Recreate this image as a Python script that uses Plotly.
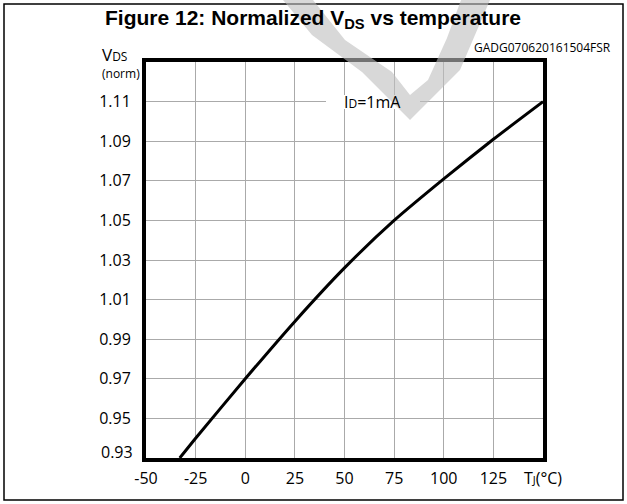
import plotly.graph_objects as go

# ---- data ----
temp_c = [-33, -25, 0, 25, 50, 75, 100, 125, 150]
vds_norm = [0.930, 0.940, 0.970, 0.999, 1.026, 1.050, 1.071, 1.091, 1.110]

x_tickvals = [-50, -25, 0, 25, 50, 75, 100, 125, 150]
x_ticktext = ["-50", "-25", "0", "25", "50", "75", "100", "125",
              "T<span style='font-size:11px'>J</span>(°C)"]
y_tickvals = [0.95, 0.97, 0.99, 1.01, 1.03, 1.05, 1.07, 1.09, 1.11]
y_ticktext = ["0.95", "0.97", "0.99", "1.01", "1.03", "1.05", "1.07", "1.09", "1.11"]
y_bottom_label = "0.93"

title_text = "Figure 12: Normalized V<sub>DS</sub> vs temperature"
code_text = "GADG070620161504FSR"
cond_text = "I<span style='font-size:12px'>D</span>=1mA"
yaxis_name = "V<span style='font-size:12px'>DS</span>"
yaxis_unit = "(norm)"

# ---- layout geometry (pixels) ----
W, H = 627, 504
L, R, T, B = 146, 84, 62, 46
PW, PH = W - L - R, H - T - B


def px(x):
    return (x - L) / PW


def py(y):
    return (H - B - y) / PH


AXFONT = "Open Sans, Noto Sans, sans-serif"

fig = go.Figure()
fig.add_trace(go.Scatter(x=temp_c, y=vds_norm, mode="lines",
                         line=dict(color="black", width=3, shape="spline", smoothing=0.6),
                         hoverinfo="skip", showlegend=False))

fig.update_xaxes(range=[-50, 150], tickvals=x_tickvals, ticktext=x_ticktext,
                 showgrid=True, gridcolor="#aaaaaa", gridwidth=1.2,
                 showline=True, mirror=True, linecolor="black", linewidth=4,
                 ticks="", zeroline=False, ticklabelstandoff=3,
                 tickfont=dict(family=AXFONT, size=16, color="black"))
fig.update_yaxes(range=[0.93, 1.13], tickvals=y_tickvals, ticktext=y_ticktext,
                 showgrid=True, gridcolor="#aaaaaa", gridwidth=1.2,
                 showline=True, mirror=True, linecolor="black", linewidth=4,
                 ticks="", zeroline=False, ticklabelstandoff=8,
                 tickfont=dict(family=AXFONT, size=16, color="black"))

wm_pts = [(283, 0), (312, 35), (362, 72), (410, 120), (460, 70), (475, 35), (490, 0),
          (461, 0), (447, 38), (428, 80), (410, 95), (392, 72), (345, 40), (313, 0)]
wm_path = "M " + " L ".join(f"{px(a):.4f},{py(b):.4f}" for a, b in wm_pts) + " Z"

fig.update_layout(
    width=W, height=H, margin=dict(l=L, r=R, t=T, b=B),
    paper_bgcolor="white", plot_bgcolor="white",
    showlegend=False,
    shapes=[
        dict(type="rect", xref="paper", yref="paper", x0=px(4), x1=px(623), y0=py(500), y1=py(4),
             line=dict(color="black", width=1.5), fillcolor="rgba(0,0,0,0)", layer="below"),
        dict(type="rect", xref="paper", yref="paper", x0=px(326), x1=px(420), y0=py(109), y1=py(95),
             line=dict(width=0), fillcolor="white", layer="above"),
        dict(type="path", xref="paper", yref="paper", path=wm_path,
             line=dict(width=0), fillcolor="rgba(190,190,190,0.6)", layer="above"),
    ],
    annotations=[
        dict(text=title_text, xref="paper", yref="paper", x=px(313), y=py(19),
             xanchor="center", yanchor="middle", showarrow=False,
             font=dict(family="Liberation Sans, Arial, sans-serif", size=21, color="black", weight="bold")),
        dict(text=code_text, xref="paper", yref="paper", x=px(613), y=py(47),
             xanchor="right", yanchor="middle", showarrow=False,
             font=dict(family=AXFONT, size=12, color="black")),
        dict(text=yaxis_name, xref="paper", yref="paper", x=px(129), y=py(55),
             xanchor="right", yanchor="middle", showarrow=False,
             font=dict(family=AXFONT, size=17, color="black")),
        dict(text=yaxis_unit, xref="paper", yref="paper", x=px(142), y=py(73),
             xanchor="right", yanchor="middle", showarrow=False,
             font=dict(family=AXFONT, size=12, color="black")),
        dict(text=y_bottom_label, xref="paper", yref="y", x=px(135), y=0.93, yshift=6,
             xanchor="right", yanchor="middle", showarrow=False,
             font=dict(family=AXFONT, size=16, color="black")),
        dict(text=cond_text, xref="x", yref="y", x=64, y=1.11,
             xanchor="center", yanchor="middle", showarrow=False,
             font=dict(family=AXFONT, size=16, color="black")),
    ],
)

fig.write_html("out.html", config={"displayModeBar": False},
               post_script="document.body.style.margin='0';")
